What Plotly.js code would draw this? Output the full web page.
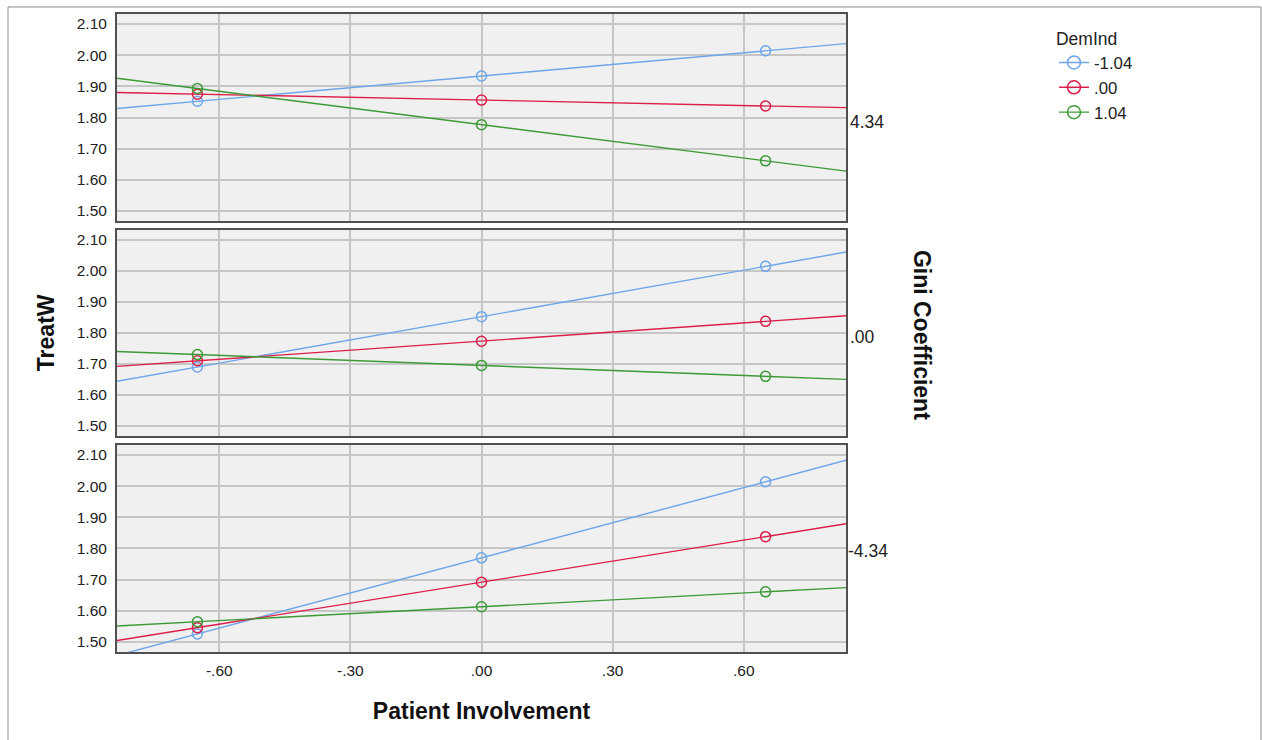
<!DOCTYPE html>
<html>
<head>
<meta charset="utf-8">
<script src="https://cdn.plot.ly/plotly-3.0.1.min.js"></script>
<style>
  html, body { margin: 0; padding: 0; background: #fff; }
  #chart { width: 1262px; height: 740px; }
</style>
</head>
<body>
<div id="chart"></div>
<script>
// ---- Data ----
const patientInvolvement = [-0.65, 0, 0.65];          // x positions of the plotted means
const xRange = [-0.834, 0.834];                         // x axis extent (lines span it)
const xTickVals = [-0.6, -0.3, 0, 0.3, 0.6];
const xTickText = ['-.60', '-.30', '.00', '.30', '.60'];
const giniLevels = ['4.34', '.00', '-4.34'];           // panel labels (top to bottom)
const demIndLevels = ['-1.04', '.00', '1.04'];          // legend entries

// TreatW values: panel Gini = 4.34
const gini434_demNeg  = [1.852, 1.933, 2.014];
const gini434_demZero = [1.875, 1.856, 1.837];
const gini434_demPos  = [1.893, 1.777, 1.661];
// panel Gini = .00
const gini000_demNeg  = [1.690, 1.852, 2.014];
const gini000_demZero = [1.710, 1.773, 1.837];
const gini000_demPos  = [1.730, 1.695, 1.660];
// panel Gini = -4.34
const giniM434_demNeg  = [1.526, 1.770, 2.014];
const giniM434_demZero = [1.546, 1.692, 1.838];
const giniM434_demPos  = [1.565, 1.613, 1.661];

const panels = [
  [gini434_demNeg, gini434_demZero, gini434_demPos],
  [gini000_demNeg, gini000_demZero, gini000_demPos],
  [giniM434_demNeg, giniM434_demZero, giniM434_demPos]
];

// ---- Styling ----
const colors = ['#6ea6ea', '#dc1e4a', '#3c9a36'];
const FONT = 'Liberation Sans, Arial, sans-serif';

// least-squares line through the points, evaluated at the axis ends
function fitLine(xs, ys) {
  const n = xs.length;
  const mx = xs.reduce((a, b) => a + b, 0) / n;
  const my = ys.reduce((a, b) => a + b, 0) / n;
  let sxy = 0, sxx = 0;
  for (let i = 0; i < n; i++) { sxy += (xs[i] - mx) * (ys[i] - my); sxx += (xs[i] - mx) ** 2; }
  const b = sxy / sxx, a = my - b * mx;
  return xRange.map(x => a + b * x);
}

const traces = [];
panels.forEach((series, p) => {
  const xa = p === 0 ? 'x' : 'x' + (p + 1);
  const ya = p === 0 ? 'y' : 'y' + (p + 1);
  series.forEach((vals, s) => {
    traces.push({
      type: 'scatter', mode: 'lines', x: xRange, y: fitLine(patientInvolvement, vals),
      xaxis: xa, yaxis: ya, line: {color: colors[s], width: 1.4},
      showlegend: false, hoverinfo: 'skip'
    });
    traces.push({
      type: 'scatter', mode: 'markers', x: patientInvolvement, y: vals,
      xaxis: xa, yaxis: ya, name: demIndLevels[s],
      marker: {symbol: 'circle-open', size: 10, color: colors[s], line: {width: 1.5, color: colors[s]}},
      showlegend: false
    });
  });
});
// legend entries
demIndLevels.forEach((lab, s) => {
  traces.push({
    type: 'scatter', mode: 'lines+markers', x: [null], y: [null], name: lab,
    line: {color: colors[s], width: 1.4},
    marker: {symbol: 'circle-open', size: 13, color: colors[s], line: {width: 1.5, color: colors[s]}},
    showlegend: true
  });
});

const yDomains = [[0.6755, 1], [0.3386, 0.662], [0, 0.3245]];
const yRange = [1.468, 2.132];

const baseX = {
  range: xRange, tickvals: xTickVals, ticktext: xTickText, showgrid: true,
  gridcolor: '#c6c6c6', gridwidth: 2, zeroline: false, showline: true, mirror: true,
  linecolor: '#505050', linewidth: 2, ticks: '', fixedrange: true,
  tickfont: {family: FONT, size: 15.5, color: '#222'}
};
const baseY = {
  range: yRange, tickvals: [1.5, 1.6, 1.7, 1.8, 1.9, 2.0, 2.1], tickformat: '.2f',
  showgrid: true, gridcolor: '#c6c6c6', gridwidth: 2, zeroline: false,
  showline: true, mirror: true, linecolor: '#505050', linewidth: 2, ticks: '',
  ticklabelstandoff: 5, fixedrange: true,
  tickfont: {family: FONT, size: 15.5, color: '#222'}
};

const layout = {
  width: 1262, height: 740,
  margin: {l: 117, r: 416, t: 14, b: 88},
  paper_bgcolor: '#ffffff', plot_bgcolor: '#f0f0f0',
  font: {family: FONT, color: '#222'},
  showlegend: true,
  legend: {
    x: 1.2853, y: 0.987, xanchor: 'left', yanchor: 'top',
    title: {text: 'DemInd', font: {family: FONT, size: 17.5, color: '#222'}},
    font: {family: FONT, size: 16.8, color: '#222'},
    bgcolor: 'rgba(0,0,0,0)', tracegroupgap: 0
  },
  xaxis:  Object.assign({}, baseX, {anchor: 'y',  showticklabels: false}),
  xaxis2: Object.assign({}, baseX, {anchor: 'y2', showticklabels: false}),
  xaxis3: Object.assign({}, baseX, {anchor: 'y3', showticklabels: true, ticklabelstandoff: 3,
            title: {text: 'Patient Involvement', standoff: 25, font: {family: FONT, size: 23, color: '#111', weight: 'bold'}}}),
  yaxis:  Object.assign({}, baseY, {domain: yDomains[0], anchor: 'x'}),
  yaxis2: Object.assign({}, baseY, {domain: yDomains[1], anchor: 'x2',
            title: {text: 'TreatW', standoff: 16, font: {family: FONT, size: 23, color: '#111', weight: 'bold'}}}),
  yaxis3: Object.assign({}, baseY, {domain: yDomains[2], anchor: 'x3'}),
  annotations: [
    {text: 'Gini Coefficient', xref: 'paper', yref: 'paper', x: 1.1043, y: 0.497,
     xanchor: 'center', yanchor: 'middle', textangle: 90, showarrow: false,
     font: {family: FONT, size: 23, color: '#111', weight: 'bold'}},
    {text: giniLevels[0], xref: 'paper', yref: 'paper', x: 1.003, y: 0.8307, xanchor: 'left', yanchor: 'middle', showarrow: false,
     font: {family: FONT, size: 17.5, color: '#222'}},
    {text: giniLevels[1], xref: 'paper', yref: 'paper', x: 1.003, y: 0.4937, xanchor: 'left', yanchor: 'middle', showarrow: false,
     font: {family: FONT, size: 17.5, color: '#222'}},
    {text: giniLevels[2], xref: 'paper', yref: 'paper', x: 1.0, y: 0.1583, xanchor: 'left', yanchor: 'middle', showarrow: false,
     font: {family: FONT, size: 17.5, color: '#222'}}
  ],
  shapes: [
    {type: 'path', xref: 'paper', yref: 'paper',
     path: 'M -0.1495,-0.2 L -0.1495,1.011 L 1.5693,1.011 L 1.5693,-0.2',
     line: {color: '#8a8a8a', width: 1}, layer: 'above'}
  ]
};

Plotly.newPlot('chart', traces, layout, {displayModeBar: false, staticPlot: true});
</script>
</body>
</html>
